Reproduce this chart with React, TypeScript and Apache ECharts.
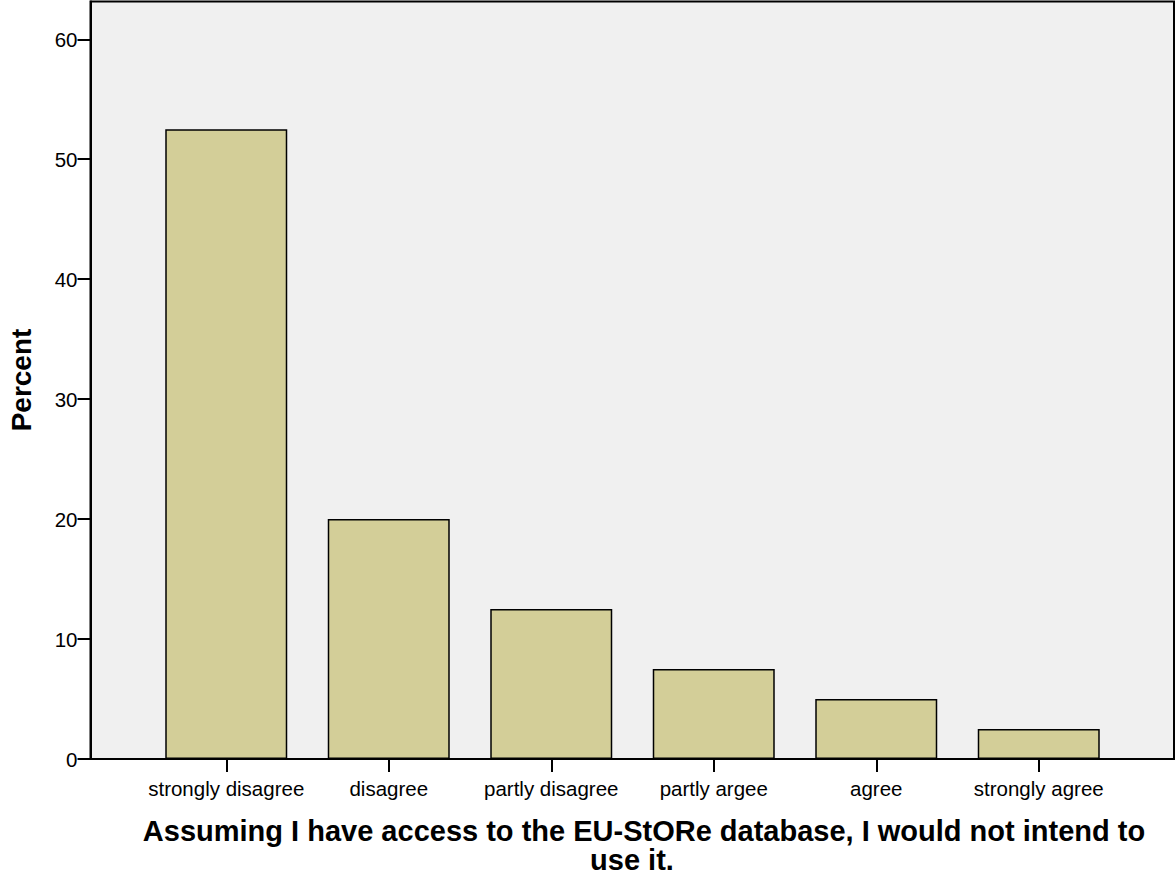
import React, { useEffect, useRef } from "react";
import * as echarts from "echarts";

const categories = [
  "strongly disagree",
  "disagree",
  "partly disagree",
  "partly argee",
  "agree",
  "strongly agree",
];
const percentValues = [52.5, 20, 12.5, 7.5, 5, 2.5];
const yTicks = [0, 10, 20, 30, 40, 50, 60];
const yMax = 63.15;
const yAxisTitle = "Percent";
const xAxisTitleLine1 =
  "Assuming I have access to the EU-StORe database, I would not intend to";
const xAxisTitleLine2 = "use it.";

const FONT = "'Liberation Sans', Arial, Helvetica, sans-serif";

export default function App() {
  const ref = useRef<HTMLDivElement>(null);

  useEffect(() => {
    if (!ref.current) return;
    const chart = echarts.init(ref.current, null, { renderer: "svg" });
    const option: any = {
      animation: false,
      backgroundColor: "#ffffff",
      grid: [
        {
          left: 90.5,
          right: 2,
          top: 1.5,
          bottom: 117,
          show: true,
          backgroundColor: "#F0F0F0",
          borderColor: "#000000",
          borderWidth: 2,
        },
        {
          left: 145,
          right: 56,
          top: 1.5,
          bottom: 117,
        },
      ],
      xAxis: [
        {
          gridIndex: 0,
          type: "value",
          min: 0,
          max: 1,
          axisLine: { show: true, lineStyle: { color: "#000", width: 2 } },
          axisTick: { show: false },
          axisLabel: { show: false },
          splitLine: { show: false },
        },
        {
          gridIndex: 1,
          type: "category",
          data: categories,
          axisLine: { show: false },
          axisTick: {
            show: true,
            alignWithLabel: true,
            interval: 0,
            length: 13,
            lineStyle: { color: "#000", width: 2 },
          },
          axisLabel: {
            interval: 0,
            color: "#000",
            fontFamily: FONT,
            fontSize: 20.5,
            margin: 19,
          },
          splitLine: { show: false },
        },
      ],
      yAxis: [
        {
          gridIndex: 0,
          type: "value",
          min: 0,
          max: yMax,
          axisLine: { show: true, lineStyle: { color: "#000", width: 2 } },
          axisTick: {
            show: true,
            length: 13,
            customValues: yTicks,
            lineStyle: { color: "#000", width: 2 },
          },
          axisLabel: {
            color: "#000",
            fontFamily: FONT,
            fontSize: 20.5,
            margin: 13,
            customValues: yTicks,
          },
          splitLine: { show: false },
        },
        {
          gridIndex: 1,
          type: "value",
          min: 0,
          max: yMax,
          show: false,
          splitLine: { show: false },
        },
      ],
      series: [
        {
          type: "bar",
          xAxisIndex: 1,
          yAxisIndex: 1,
          data: percentValues,
          barWidth: 122,
          itemStyle: {
            color: "#D3CE98",
            borderColor: "#000000",
            borderWidth: 1.5,
          },
        },
      ],
      graphic: [
        {
          type: "text",
          x: 21,
          y: 380,
          rotation: Math.PI / 2,
          style: {
            text: yAxisTitle,
            fontFamily: FONT,
            fontWeight: "bold",
            fontSize: 28,
            fill: "#000",
            align: "center",
            verticalAlign: "middle",
          },
        },
        {
          type: "text",
          x: 644,
          y: 831,
          style: {
            text: xAxisTitleLine1,
            fontFamily: FONT,
            fontWeight: "bold",
            fontSize: 29,
            lineHeight: 28,
            fill: "#000",
            align: "center",
            verticalAlign: "middle",
          },
        },
        {
          type: "text",
          x: 632,
          y: 860,
          style: {
            text: xAxisTitleLine2,
            fontFamily: FONT,
            fontWeight: "bold",
            fontSize: 29,
            lineHeight: 28,
            fill: "#000",
            align: "center",
            verticalAlign: "middle",
          },
        },
      ],
    };
    chart.setOption(option);
    return () => chart.dispose();
  }, []);

  return (
    <div
      ref={ref}
      style={{ position: "fixed", left: 0, top: 0, width: 1176, height: 876 }}
    />
  );
}
